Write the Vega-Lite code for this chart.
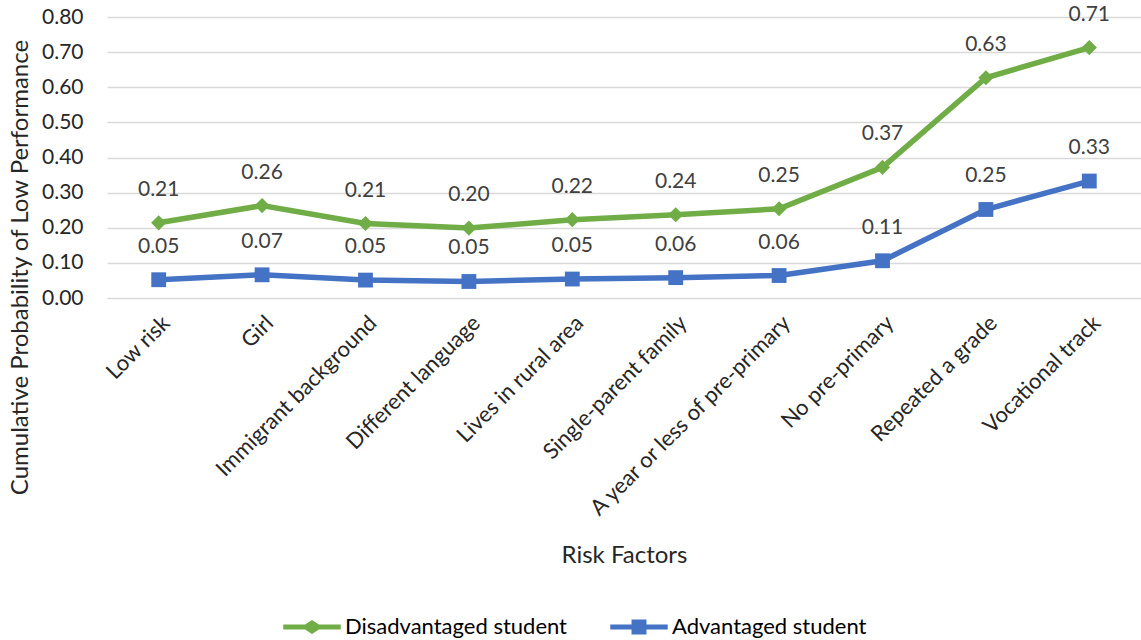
{
  "$schema": "https://vega.github.io/schema/vega-lite/v6.json",
  "width": 1034,
  "height": 281,
  "autosize": "none",
  "padding": {"left": 107, "top": 17, "right": 0, "bottom": 342},
  "background": "white",
  "config": {
    "view": {"stroke": null},
    "font": "Lato",
    "axis": {"labelFont": "Lato", "titleFont": "Lato", "labelColor": "#262626", "titleColor": "#262626", "titleFontWeight": "normal"}
  },
  "data": {
    "values": [
      {"factor": "Low risk", "group": "Disadvantaged student", "value": 0.214},
      {"factor": "Girl", "group": "Disadvantaged student", "value": 0.263},
      {"factor": "Immigrant background", "group": "Disadvantaged student", "value": 0.212},
      {"factor": "Different language", "group": "Disadvantaged student", "value": 0.199},
      {"factor": "Lives in rural area", "group": "Disadvantaged student", "value": 0.223},
      {"factor": "Single-parent family", "group": "Disadvantaged student", "value": 0.237},
      {"factor": "A year or less of pre-primary", "group": "Disadvantaged student", "value": 0.254},
      {"factor": "No pre-primary", "group": "Disadvantaged student", "value": 0.372},
      {"factor": "Repeated a grade", "group": "Disadvantaged student", "value": 0.627},
      {"factor": "Vocational track", "group": "Disadvantaged student", "value": 0.713},
      {"factor": "Low risk", "group": "Advantaged student", "value": 0.052},
      {"factor": "Girl", "group": "Advantaged student", "value": 0.066},
      {"factor": "Immigrant background", "group": "Advantaged student", "value": 0.051},
      {"factor": "Different language", "group": "Advantaged student", "value": 0.047},
      {"factor": "Lives in rural area", "group": "Advantaged student", "value": 0.054},
      {"factor": "Single-parent family", "group": "Advantaged student", "value": 0.058},
      {"factor": "A year or less of pre-primary", "group": "Advantaged student", "value": 0.064},
      {"factor": "No pre-primary", "group": "Advantaged student", "value": 0.106},
      {"factor": "Repeated a grade", "group": "Advantaged student", "value": 0.252},
      {"factor": "Vocational track", "group": "Advantaged student", "value": 0.333}
    ]
  },
  "encoding": {
    "x": {
      "field": "factor", "type": "nominal", "sort": null,
      "scale": {"paddingInner": 0, "paddingOuter": 0},
      "axis": {
        "title": "Risk Factors", "titleFontSize": 24, "titleY": 257, "titleBaseline": "middle",
        "labelAngle": -45, "labelFontSize": 22, "labelPadding": 14, "labelLimit": 400,
        "domain": false, "ticks": false, "grid": false
      }
    },
    "y": {
      "field": "value", "type": "quantitative",
      "scale": {"domain": [0, 0.8], "nice": false},
      "axis": {
        "title": "Cumulative Probability of Low Performance", "titleFontSize": 24,
        "titleX": -87, "titleY": 250, "titleBaseline": "middle", "titleAngle": -90, "titleAlign": "center",
        "values": [0, 0.1, 0.2, 0.3, 0.4, 0.5, 0.6, 0.7, 0.8], "format": ".2f",
        "labelFontSize": 21, "labelPadding": 24, "domain": false, "ticks": false,
        "grid": true, "gridColor": "#d9d9d9", "gridWidth": 1.3
      }
    }
  },
  "layer": [
    {
      "mark": {"type": "line", "strokeWidth": 5.5},
      "encoding": {
        "color": {
          "field": "group", "type": "nominal",
          "scale": {"domain": ["Disadvantaged student", "Advantaged student"], "range": ["#70AD47", "#4472C4"]},
          "legend": {
            "title": null, "orient": "none", "legendX": 176, "legendY": 581, "direction": "horizontal",
            "labelFontSize": 22, "labelFont": "Lato", "labelColor": "#000000", "labelLimit": 400,
            "symbolSize": 3300, "symbolStrokeWidth": 0, "labelOffset": 4, "columnPadding": 42,
            "encode": {
              "symbols": {
                "update": {
                  "shape": {"signal": "datum.value == 'Disadvantaged student' ? 'M-1,-0.09 L-0.24,-0.09 L0,-0.24 L0.24,-0.09 L1,-0.09 L1,0.09 L0.24,0.09 L0,0.24 L-0.24,0.09 L-1,0.09 Z' : 'M-1,-0.09 L-0.26,-0.09 L-0.26,-0.26 L0.26,-0.26 L0.26,-0.09 L1,-0.09 L1,0.09 L0.26,0.09 L0.26,0.26 L-0.26,0.26 L-0.26,0.09 L-1,0.09 Z'"},
                  "fill": {"signal": "datum.value == 'Disadvantaged student' ? '#70AD47' : '#4472C4'"},
                  "strokeWidth": {"value": 0},
                  "opacity": {"value": 1}
                }
              }
            }
          }
        }
      }
    },
    {
      "transform": [{"filter": "datum.group == 'Disadvantaged student'"}],
      "mark": {"type": "point", "filled": true, "opacity": 1, "shape": "diamond", "color": "#70AD47", "size": 230}
    },
    {
      "transform": [{"filter": "datum.group == 'Advantaged student'"}],
      "mark": {"type": "point", "filled": true, "opacity": 1, "shape": "square", "color": "#4472C4", "size": 220}
    },
    {
      "mark": {"type": "text", "dy": -33, "baseline": "middle", "fontSize": 21, "font": "Lato", "color": "#404040"},
      "encoding": {
        "text": {"field": "value", "type": "quantitative", "format": ".2f"}
      }
    }
  ]
}
